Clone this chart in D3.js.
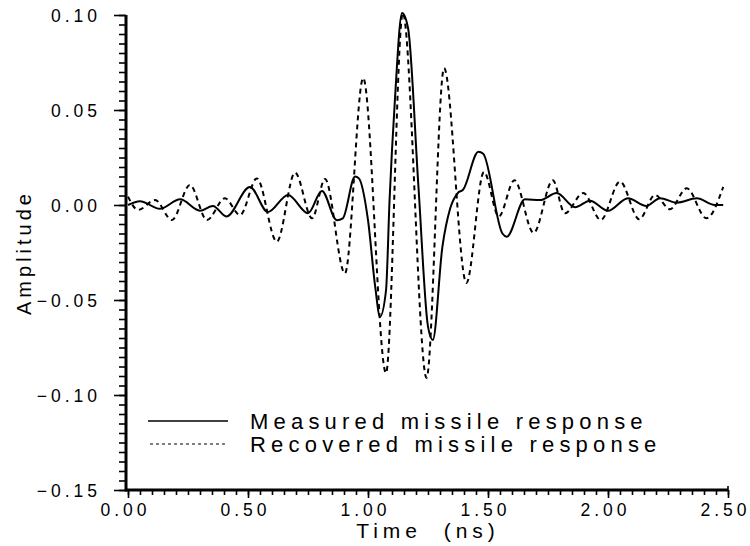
<!DOCTYPE html>
<html><head><meta charset="utf-8">
<script src="https://cdn.jsdelivr.net/npm/d3@7"></script>
<style>body{margin:0;background:#fff}svg{display:block}</style>
</head><body><svg id="c" width="750" height="546"></svg>
<script>
// ---- data ----
const measuredTime = [0.00,0.05,0.133,0.217,0.30,0.354,0.41,0.508,0.583,0.667,0.75,0.808,0.87,0.895,0.946,0.962,1.00,1.03,1.05,1.075,1.09,1.112,1.142,1.167,1.21,1.25,1.27,1.31,1.342,1.374,1.396,1.46,1.48,1.56,1.578,1.654,1.717,1.786,1.863,1.925,2.00,2.083,2.16,2.217,2.286,2.37,2.445,2.48];
const measuredAmp  = [0.000,0.002,-0.002,0.003,-0.003,-0.0005,-0.006,0.0095,-0.0037,0.0053,-0.0043,0.0074,-0.008,-0.007,0.015,0.014,-0.008,-0.043,-0.0588,-0.045,0.003,0.055,0.101,0.093,0.010,-0.064,-0.071,-0.022,-0.002,0.0063,0.008,0.028,0.027,-0.015,-0.0167,0.003,0.0026,0.0063,-0.0012,0.0023,-0.003,0.0036,-0.0005,0.0036,0.0012,0.0035,0.000,0.000];
const recoveredTime = [0.00,0.042,0.113,0.183,0.258,0.329,0.404,0.467,0.537,0.62,0.696,0.767,0.821,0.904,0.98,1.075,1.145,1.244,1.317,1.41,1.483,1.545,1.61,1.69,1.77,1.82,1.897,1.97,2.05,2.13,2.196,2.258,2.328,2.41,2.48];
const recoveredAmp  = [0.0044,-0.0026,0.0026,-0.0079,0.0105,-0.0079,0.0035,-0.0053,0.014,-0.0193,0.017,-0.007,0.0137,-0.036,0.0668,-0.0884,0.101,-0.091,0.072,-0.041,0.0174,-0.006,0.013,-0.0147,0.013,-0.0044,0.0063,-0.0079,0.0123,-0.0075,0.0053,-0.0022,0.0088,-0.007,0.0095];
const xTickValues = [0,0.5,1,1.5,2,2.5];
const xTickLabels = ["0.00","0.50","1.00","1.50","2.00","2.50"];
const yTickValues = [-0.15,-0.10,-0.05,0,0.05,0.10];
const yTickLabels = ["\u22120.15","\u22120.10","\u22120.05","0.00","0.05","0.10"];
const seriesNames = ["Measured missile response","Recovered missile response"];
const xTitle = "Time  (ns)";
const yTitle = "Amplitude";

const FONT = "'Liberation Sans', Arial, sans-serif";
const svg = d3.select("#c");
const x = d3.scaleLinear().domain([0,2.5]).range([128,728]);
const y = d3.scaleLinear().domain([-0.15,0.10]).range([490,15]);

const minorX = d3.range(0,51).map(i=>+(i*0.05).toFixed(3));
const minorY = d3.range(0,51).map(i=>+(-0.15+i*0.005).toFixed(4));

// minor ticks
svg.append("g").attr("transform","translate(0,490)")
  .call(d3.axisBottom(x).tickValues(minorX).tickSize(5).tickFormat(""))
  .call(g=>g.select(".domain").remove());
svg.append("g").attr("transform","translate(126,0)")
  .call(d3.axisLeft(y).tickValues(minorY).tickSize(7).tickFormat(""))
  .call(g=>g.select(".domain").remove());

// major ticks + labels
const gx = svg.append("g").attr("transform","translate(0,490)")
  .call(d3.axisBottom(x).tickValues(xTickValues).tickSize(8).tickFormat((d,i)=>xTickLabels[i]))
  .call(g=>g.select(".domain").remove());
gx.selectAll("text").attr("y",26).attr("dy",null).attr("dx",-3)
  .style("font-family",FONT).style("font-size","17.5px").style("letter-spacing","4px").attr("fill","#000");

const gy = svg.append("g").attr("transform","translate(126,0)")
  .call(d3.axisLeft(y).tickValues(yTickValues).tickSize(12).tickFormat((d,i)=>yTickLabels[i]))
  .call(g=>g.select(".domain").remove());
gy.selectAll("text").attr("x",-25).attr("dy","0.36em")
  .style("font-family",FONT).style("font-size","17.5px").style("letter-spacing","4px").attr("fill","#000");

svg.selectAll(".tick line").attr("stroke","#000").attr("stroke-width",1.6);

// axis lines
svg.append("line").attr("x1",x(0)-2).attr("x2",x(2.5)).attr("y1",y(-0.15)).attr("y2",y(-0.15))
  .attr("stroke","#000").attr("stroke-width",3);
svg.append("line").attr("x1",126).attr("x2",126).attr("y1",y(0.10)).attr("y2",y(-0.15)+1.5)
  .attr("stroke","#000").attr("stroke-width",3);
svg.append("line").attr("x1",x(2.5)).attr("x2",x(2.5)).attr("y1",y(-0.15)-4).attr("y2",y(-0.15))
  .attr("stroke","#000").attr("stroke-width",1.6);

// curves
const measured = measuredTime.map((t,i)=>[t,measuredAmp[i]]);
const recovered = recoveredTime.map((t,i)=>[t,recoveredAmp[i]]);
const line = d3.line().x(d=>x(d[0])).y(d=>y(d[1])).curve(d3.curveMonotoneX);
svg.append("path").datum(recovered).attr("d",line).attr("fill","none")
  .attr("stroke","#000").attr("stroke-width",2).attr("stroke-dasharray","5,4");
svg.append("path").datum(measured).attr("d",line).attr("fill","none")
  .attr("stroke","#000").attr("stroke-width",2);

// legend
const lg = svg.append("g");
lg.append("line").attr("x1",148).attr("x2",228).attr("y1",421).attr("y2",421)
  .attr("stroke","#000").attr("stroke-width",1.6);
lg.append("line").attr("x1",150).attr("x2",228).attr("y1",444).attr("y2",444)
  .attr("stroke","#000").attr("stroke-width",1.2).attr("stroke-dasharray","3,3");
lg.selectAll("text").data(seriesNames).join("text")
  .attr("x",250).attr("y",(d,i)=>429+i*23)
  .style("font-family",FONT).style("font-size","22px").style("letter-spacing","5.2px")
  .text(d=>d);

// titles
svg.append("text").attr("x",x(1.25)).attr("y",538).attr("text-anchor","middle")
  .attr("xml:space","preserve").style("white-space","pre")
  .style("font-family",FONT).style("font-size","21px").style("letter-spacing","5px").text(xTitle);
svg.append("text").attr("transform",`translate(31,${(y(0.10)+y(-0.15))/2}) rotate(-90)`)
  .attr("text-anchor","middle")
  .style("font-family",FONT).style("font-size","20px").style("letter-spacing","4px").text(yTitle);
</script>
</body></html>
